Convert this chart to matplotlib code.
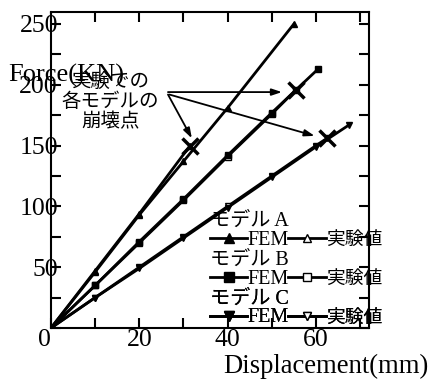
import numpy as np
import matplotlib
matplotlib.use('Agg')
import matplotlib.pyplot as plt
from matplotlib.ticker import MultipleLocator, FuncFormatter

plt.rcParams['font.family'] = ['Liberation Serif', 'Noto Sans CJK JP']

# FEM results
xa_fem = [0, 10, 20, 30, 40, 55]
ya_fem = [0, 46, 93, 137, 181, 250]
xb_fem = [0, 10, 20, 30, 40, 50, 60.5]
yb_fem = [0, 35, 71, 106, 142, 177, 213]
xc_fem = [0, 10, 20, 30, 40, 50, 60, 67.5]
yc_fem = [0, 25, 49, 74, 99, 124, 149, 167]

# experiment
xa_exp = [0, 10, 20, 31.5]
ya_exp = [0, 47, 94, 150]
xb_exp = [0, 10, 20, 30, 40, 50, 55.5]
yb_exp = [0, 35, 70, 105, 141, 176, 196]
xc_exp = [0, 10, 20, 30, 40, 50, 60, 62.5]
yc_exp = [0, 25, 50, 75, 100, 125, 150, 156]

# collapse points
x_fail = [31.5, 55.5, 62.5]
y_fail = [150, 196, 156]

fig = plt.figure(figsize=(4.28, 3.81), dpi=100)
ax = fig.add_axes([0.119, 0.139, 0.743, 0.830])

lw = 2
ea, = ax.plot(xa_exp, ya_exp, '-', color='k', lw=lw, marker='^', ms=4, mfc='w')
eb, = ax.plot(xb_exp, yb_exp, '-', color='k', lw=lw, marker='s', ms=4, mfc='w')
ec, = ax.plot(xc_exp, yc_exp, '-', color='k', lw=lw, marker='v', ms=4, mfc='w')
la, = ax.plot(xa_fem, ya_fem, '-', color='k', lw=lw, marker='^', ms=5)
lb, = ax.plot(xb_fem, yb_fem, '-', color='k', lw=lw, marker='s', ms=5)
lc, = ax.plot(xc_fem, yc_fem, '-', color='k', lw=lw, marker='v', ms=5)
ax.plot(x_fail, y_fail, 'x', color='k', ms=11, mew=2.5)

ax.set_xlim(0, 72)
ax.set_ylim(0, 260)
ax.set_xticks([0, 20, 40, 60])
ax.xaxis.set_minor_locator(MultipleLocator(10))
ax.yaxis.set_major_locator(MultipleLocator(50))
ax.yaxis.set_minor_locator(MultipleLocator(25))
ax.yaxis.set_major_formatter(FuncFormatter(lambda v, p: '' if v == 0 else '%d' % v))
ax.tick_params(which='both', direction='in', top=True, right=True, length=7, width=1.5)
ax.tick_params(axis='both', labelsize=18.5)
ax.tick_params(axis='y', pad=-5)
ax.tick_params(axis='x', pad=1)
for s in ax.spines.values():
    s.set_linewidth(1.5)

ax.text(-0.135, 0.80, 'Force(KN)', transform=ax.transAxes, fontsize=19, ha='left', va='center')
fig.text(1.0, 0.005, 'Displacement(mm)', fontsize=19.2, ha='right', va='bottom')

# collapse point note with arrows
txt = '実験での\n各モデルの\n崩壊点'
ax.text(13.5, 186, txt, fontsize=14, ha='center', va='center', linespacing=0.95,
        family=['Noto Sans CJK JP'], color='k')
arr = dict(arrowstyle='-|>,head_length=0.6,head_width=0.2', color='k', lw=1.3, shrinkA=0, shrinkB=0)
ax.annotate('', xy=(52.3, 194), xytext=(26.5, 194), arrowprops=arr)
ax.annotate('', xy=(31.9, 156), xytext=(26.5, 192), arrowprops=arr)
ax.annotate('', xy=(59.7, 158), xytext=(26.8, 192), arrowprops=arr)

groups = [('モデル A', la, ea), ('モデル B', lb, eb), ('モデル C', lc, ec)]
tops = [0.368, 0.245, 0.122]
for (title, hf, he), top in zip(groups, tops):
    leg = ax.legend([hf, he], ['FEM', '実験値'], ncol=2, loc='upper left',
                    bbox_to_anchor=(0.50, top), frameon=False, fontsize=14.5,
                    title=title, title_fontsize=14.5, alignment='left',
                    handlelength=1.85, handletextpad=0.0, columnspacing=0.0,
                    labelspacing=0.0, handleheight=0.5, markerscale=1.3,
                    numpoints=1, borderpad=0, borderaxespad=0)
    leg.get_texts()[1].set_fontsize(13.5)
    ax.add_artist(leg)

# the zero label sits just left of the corner
ax.xaxis.get_major_ticks()[0].label1.set_horizontalalignment('right')

fig.savefig('out.png', dpi=100)
